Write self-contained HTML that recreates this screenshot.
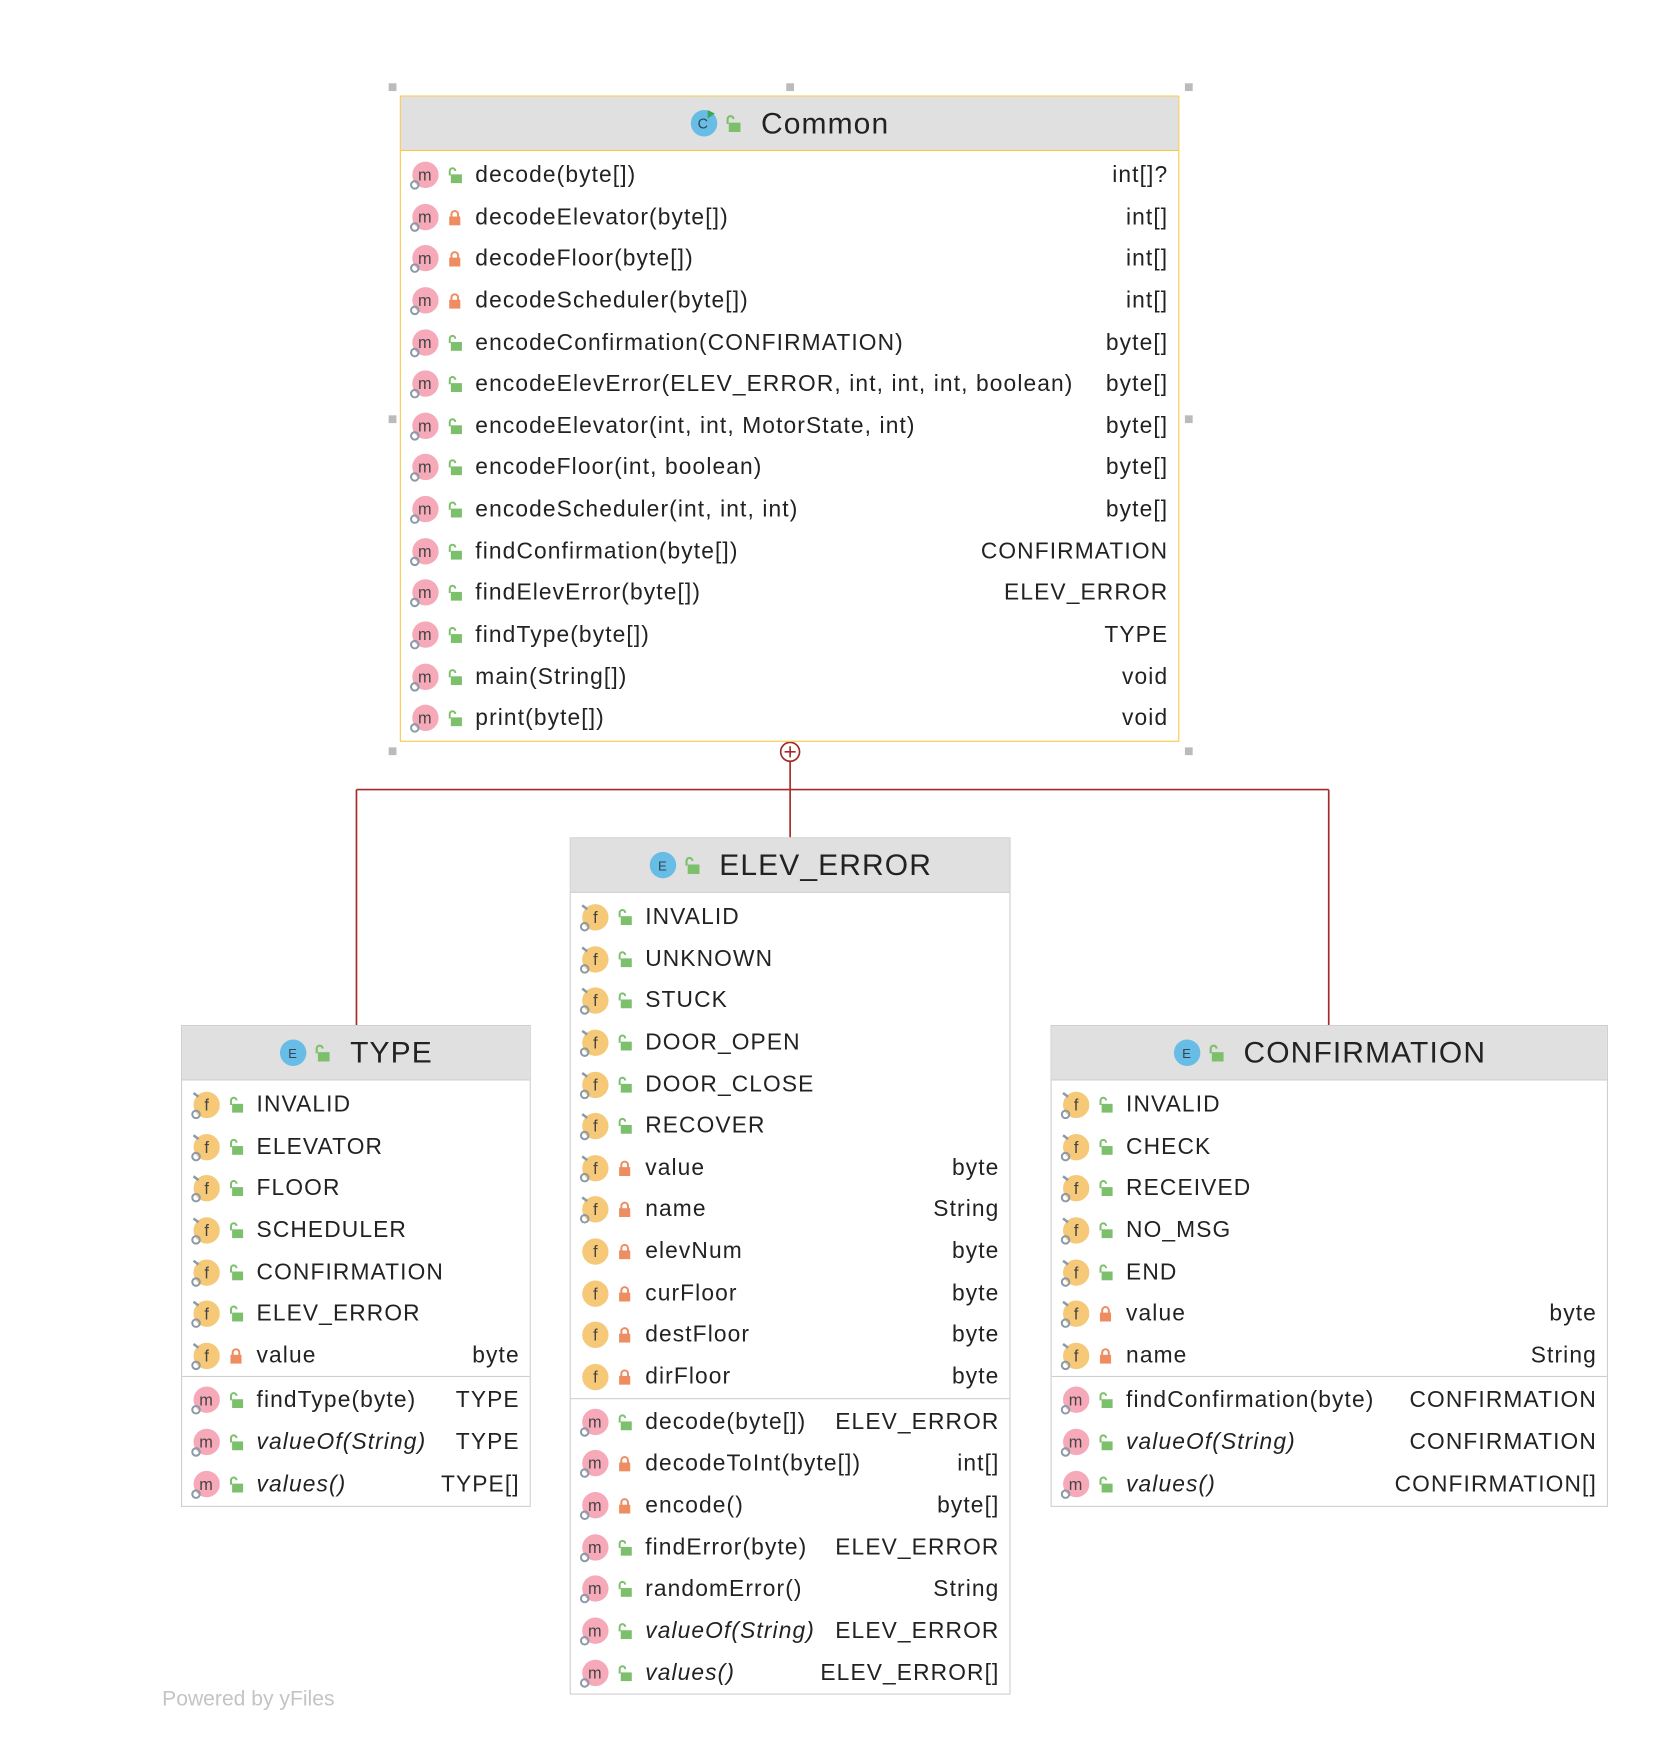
<!DOCTYPE html>
<html><head><meta charset="utf-8">
<style>
html,body{margin:0;padding:0;background:#fff;width:1678px;height:1740px;overflow:hidden}
#s{position:absolute;left:0;top:0;width:1515px;height:1570px;transform:scale(1.1105);transform-origin:0 0;font-family:"Liberation Sans",sans-serif;color:#222}
.box{position:absolute;background:#fff;border:1.5px solid #cfcfcf;box-sizing:border-box}
.box.sel{border-color:#f7c948}
.hd{height:49px;background:#e0e0e0;border-bottom:1.5px solid #cfcfcf;display:flex;align-items:center;justify-content:center;font-size:27px;letter-spacing:1px;color:#222;box-sizing:border-box}
.sel .hd{border-bottom-color:#f7c948}
.rows{padding-top:3px}
.r{height:37.65px;position:relative;font-size:20.5px;letter-spacing:1px;line-height:37.65px;white-space:nowrap}
.r .ic{position:absolute;left:8px;top:6px;width:26px;height:26px}
.r .lk{position:absolute;left:42px;top:11px;width:13px;height:15px}
.r .t{position:absolute;left:67px}
.r .v{position:absolute;right:9px}
.r i{font-style:italic}
.sep{border-top:1.5px solid #cfcfcf;margin-top:0;padding-top:2px}
.h{position:absolute;width:7px;height:7px;background:#bbb}
.hi{width:26px;height:26px;margin-right:6px}
.hl{width:14px;height:16px;margin-right:18px}
</style></head><body>
<svg width="0" height="0" style="position:absolute">
<defs>
<symbol id="m" viewBox="0 0 23 23"><circle cx="12.5" cy="11" r="10.5" fill="#f6a9b8"/><text x="12.5" y="15.5" font-size="13" text-anchor="middle" font-family="Liberation Sans" fill="#444">m</text><circle cx="4" cy="19" r="3" fill="none" stroke="#8a9aa8" stroke-width="1.6"/></symbol>
<symbol id="f" viewBox="0 0 23 23"><circle cx="12.5" cy="11.5" r="10.5" fill="#f6c979"/><text x="13" y="16" font-size="13" text-anchor="middle" font-family="Liberation Sans" fill="#444">f</text><circle cx="4" cy="19" r="3" fill="none" stroke="#8a9aa8" stroke-width="1.6"/><path d="M2 2l4 3" stroke="#8a9aa8" stroke-width="2"/></symbol>
<symbol id="fp" viewBox="0 0 23 23"><circle cx="12.5" cy="11.5" r="10.5" fill="#f6c979"/><text x="13" y="16" font-size="13" text-anchor="middle" font-family="Liberation Sans" fill="#444">f</text></symbol>
<symbol id="g" viewBox="0 0 13 15"><path d="M2 8V4a2.5 2.5 0 0 1 5 0" fill="none" stroke="#7cc06c" stroke-width="1.8"/><rect x="3" y="7" width="10" height="8" fill="#7cc06c"/></symbol>
<symbol id="o" viewBox="0 0 13 15"><path d="M3.5 8V5a3 3 0 0 1 6 0v3" fill="none" stroke="#ee8c62" stroke-width="1.8"/><rect x="1.5" y="7" width="10" height="8" fill="#ee8c62"/></symbol>
<symbol id="e" viewBox="0 0 24 24"><circle cx="12" cy="12" r="11" fill="#67bde6"/><text x="12" y="16.5" font-size="11" text-anchor="middle" font-family="Liberation Sans" fill="#345">E</text></symbol>
<symbol id="c" viewBox="0 0 24 24"><circle cx="12" cy="12" r="11" fill="#67bde6"/><text x="11.5" y="16.5" font-size="12" text-anchor="middle" font-family="Liberation Sans" fill="#345">C</text><path d="M15 1l6 3-6 4z" fill="#3aa850"/></symbol>
</defs></svg>
<div id="s">
<svg style="position:absolute;left:0;top:0" width="1515" height="1570">
<g stroke="#a52a2a" stroke-width="1.5" fill="none">
<circle cx="711.5" cy="677" r="8.5"/>
<path d="M711.5 672v10M706.5 677h10"/>
<path d="M711.5 685.5V754M321 711H1196.5M321 711V923M1196.5 711V923"/>
</g></svg>
<div class="h" style="left:350px;top:75px"></div><div class="h" style="left:708px;top:75px"></div><div class="h" style="left:1067px;top:75px"></div>
<div class="h" style="left:350px;top:374px"></div><div class="h" style="left:1067px;top:374px"></div>
<div class="h" style="left:350px;top:673px"></div><div class="h" style="left:1067px;top:673px"></div>

<div class="box sel" style="left:360px;top:86px;width:702px;height:582px">
<div class="hd"><svg class="hi"><use href="#c"/></svg><svg class="hl"><use href="#g"/></svg>Common</div>
<div class="rows">
<div class="r"><svg class="ic"><use href="#m"/></svg><svg class="lk"><use href="#g"/></svg><span class="t">decode(byte[])</span><span class="v">int[]?</span></div>
<div class="r"><svg class="ic"><use href="#m"/></svg><svg class="lk"><use href="#o"/></svg><span class="t">decodeElevator(byte[])</span><span class="v">int[]</span></div>
<div class="r"><svg class="ic"><use href="#m"/></svg><svg class="lk"><use href="#o"/></svg><span class="t">decodeFloor(byte[])</span><span class="v">int[]</span></div>
<div class="r"><svg class="ic"><use href="#m"/></svg><svg class="lk"><use href="#o"/></svg><span class="t">decodeScheduler(byte[])</span><span class="v">int[]</span></div>
<div class="r"><svg class="ic"><use href="#m"/></svg><svg class="lk"><use href="#g"/></svg><span class="t">encodeConfirmation(CONFIRMATION)</span><span class="v">byte[]</span></div>
<div class="r"><svg class="ic"><use href="#m"/></svg><svg class="lk"><use href="#g"/></svg><span class="t">encodeElevError(ELEV_ERROR, int, int, int, boolean)</span><span class="v">byte[]</span></div>
<div class="r"><svg class="ic"><use href="#m"/></svg><svg class="lk"><use href="#g"/></svg><span class="t">encodeElevator(int, int, MotorState, int)</span><span class="v">byte[]</span></div>
<div class="r"><svg class="ic"><use href="#m"/></svg><svg class="lk"><use href="#g"/></svg><span class="t">encodeFloor(int, boolean)</span><span class="v">byte[]</span></div>
<div class="r"><svg class="ic"><use href="#m"/></svg><svg class="lk"><use href="#g"/></svg><span class="t">encodeScheduler(int, int, int)</span><span class="v">byte[]</span></div>
<div class="r"><svg class="ic"><use href="#m"/></svg><svg class="lk"><use href="#g"/></svg><span class="t">findConfirmation(byte[])</span><span class="v">CONFIRMATION</span></div>
<div class="r"><svg class="ic"><use href="#m"/></svg><svg class="lk"><use href="#g"/></svg><span class="t">findElevError(byte[])</span><span class="v">ELEV_ERROR</span></div>
<div class="r"><svg class="ic"><use href="#m"/></svg><svg class="lk"><use href="#g"/></svg><span class="t">findType(byte[])</span><span class="v">TYPE</span></div>
<div class="r"><svg class="ic"><use href="#m"/></svg><svg class="lk"><use href="#g"/></svg><span class="t">main(String[])</span><span class="v">void</span></div>
<div class="r"><svg class="ic"><use href="#m"/></svg><svg class="lk"><use href="#g"/></svg><span class="t">print(byte[])</span><span class="v">void</span></div>
</div></div>

<div class="box" style="left:513px;top:754px;width:397px;height:772px">
<div class="hd"><svg class="hi"><use href="#e"/></svg><svg class="hl"><use href="#g"/></svg>ELEV_ERROR</div>
<div class="rows">
<div class="r"><svg class="ic"><use href="#f"/></svg><svg class="lk"><use href="#g"/></svg><span class="t">INVALID</span></div>
<div class="r"><svg class="ic"><use href="#f"/></svg><svg class="lk"><use href="#g"/></svg><span class="t">UNKNOWN</span></div>
<div class="r"><svg class="ic"><use href="#f"/></svg><svg class="lk"><use href="#g"/></svg><span class="t">STUCK</span></div>
<div class="r"><svg class="ic"><use href="#f"/></svg><svg class="lk"><use href="#g"/></svg><span class="t">DOOR_OPEN</span></div>
<div class="r"><svg class="ic"><use href="#f"/></svg><svg class="lk"><use href="#g"/></svg><span class="t">DOOR_CLOSE</span></div>
<div class="r"><svg class="ic"><use href="#f"/></svg><svg class="lk"><use href="#g"/></svg><span class="t">RECOVER</span></div>
<div class="r"><svg class="ic"><use href="#f"/></svg><svg class="lk"><use href="#o"/></svg><span class="t">value</span><span class="v">byte</span></div>
<div class="r"><svg class="ic"><use href="#f"/></svg><svg class="lk"><use href="#o"/></svg><span class="t">name</span><span class="v">String</span></div>
<div class="r"><svg class="ic"><use href="#fp"/></svg><svg class="lk"><use href="#o"/></svg><span class="t">elevNum</span><span class="v">byte</span></div>
<div class="r"><svg class="ic"><use href="#fp"/></svg><svg class="lk"><use href="#o"/></svg><span class="t">curFloor</span><span class="v">byte</span></div>
<div class="r"><svg class="ic"><use href="#fp"/></svg><svg class="lk"><use href="#o"/></svg><span class="t">destFloor</span><span class="v">byte</span></div>
<div class="r"><svg class="ic"><use href="#fp"/></svg><svg class="lk"><use href="#o"/></svg><span class="t">dirFloor</span><span class="v">byte</span></div>
</div>
<div class="rows sep">
<div class="r"><svg class="ic"><use href="#m"/></svg><svg class="lk"><use href="#g"/></svg><span class="t">decode(byte[])</span><span class="v">ELEV_ERROR</span></div>
<div class="r"><svg class="ic"><use href="#m"/></svg><svg class="lk"><use href="#o"/></svg><span class="t">decodeToInt(byte[])</span><span class="v">int[]</span></div>
<div class="r"><svg class="ic"><use href="#m"/></svg><svg class="lk"><use href="#o"/></svg><span class="t">encode()</span><span class="v">byte[]</span></div>
<div class="r"><svg class="ic"><use href="#m"/></svg><svg class="lk"><use href="#g"/></svg><span class="t">findError(byte)</span><span class="v">ELEV_ERROR</span></div>
<div class="r"><svg class="ic"><use href="#m"/></svg><svg class="lk"><use href="#g"/></svg><span class="t">randomError()</span><span class="v">String</span></div>
<div class="r"><svg class="ic"><use href="#m"/></svg><svg class="lk"><use href="#g"/></svg><span class="t"><i>valueOf(String)</i></span><span class="v">ELEV_ERROR</span></div>
<div class="r"><svg class="ic"><use href="#m"/></svg><svg class="lk"><use href="#g"/></svg><span class="t"><i>values()</i></span><span class="v">ELEV_ERROR[]</span></div>
</div></div>

<div class="box" style="left:163px;top:923px;width:315px;height:434px">
<div class="hd"><svg class="hi"><use href="#e"/></svg><svg class="hl"><use href="#g"/></svg>TYPE</div>
<div class="rows">
<div class="r"><svg class="ic"><use href="#f"/></svg><svg class="lk"><use href="#g"/></svg><span class="t">INVALID</span></div>
<div class="r"><svg class="ic"><use href="#f"/></svg><svg class="lk"><use href="#g"/></svg><span class="t">ELEVATOR</span></div>
<div class="r"><svg class="ic"><use href="#f"/></svg><svg class="lk"><use href="#g"/></svg><span class="t">FLOOR</span></div>
<div class="r"><svg class="ic"><use href="#f"/></svg><svg class="lk"><use href="#g"/></svg><span class="t">SCHEDULER</span></div>
<div class="r"><svg class="ic"><use href="#f"/></svg><svg class="lk"><use href="#g"/></svg><span class="t">CONFIRMATION</span></div>
<div class="r"><svg class="ic"><use href="#f"/></svg><svg class="lk"><use href="#g"/></svg><span class="t">ELEV_ERROR</span></div>
<div class="r"><svg class="ic"><use href="#f"/></svg><svg class="lk"><use href="#o"/></svg><span class="t">value</span><span class="v">byte</span></div>
</div>
<div class="rows sep">
<div class="r"><svg class="ic"><use href="#m"/></svg><svg class="lk"><use href="#g"/></svg><span class="t">findType(byte)</span><span class="v">TYPE</span></div>
<div class="r"><svg class="ic"><use href="#m"/></svg><svg class="lk"><use href="#g"/></svg><span class="t"><i>valueOf(String)</i></span><span class="v">TYPE</span></div>
<div class="r"><svg class="ic"><use href="#m"/></svg><svg class="lk"><use href="#g"/></svg><span class="t"><i>values()</i></span><span class="v">TYPE[]</span></div>
</div></div>

<div class="box" style="left:946px;top:923px;width:502px;height:434px">
<div class="hd"><svg class="hi"><use href="#e"/></svg><svg class="hl"><use href="#g"/></svg>CONFIRMATION</div>
<div class="rows">
<div class="r"><svg class="ic"><use href="#f"/></svg><svg class="lk"><use href="#g"/></svg><span class="t">INVALID</span></div>
<div class="r"><svg class="ic"><use href="#f"/></svg><svg class="lk"><use href="#g"/></svg><span class="t">CHECK</span></div>
<div class="r"><svg class="ic"><use href="#f"/></svg><svg class="lk"><use href="#g"/></svg><span class="t">RECEIVED</span></div>
<div class="r"><svg class="ic"><use href="#f"/></svg><svg class="lk"><use href="#g"/></svg><span class="t">NO_MSG</span></div>
<div class="r"><svg class="ic"><use href="#f"/></svg><svg class="lk"><use href="#g"/></svg><span class="t">END</span></div>
<div class="r"><svg class="ic"><use href="#f"/></svg><svg class="lk"><use href="#o"/></svg><span class="t">value</span><span class="v">byte</span></div>
<div class="r"><svg class="ic"><use href="#f"/></svg><svg class="lk"><use href="#o"/></svg><span class="t">name</span><span class="v">String</span></div>
</div>
<div class="rows sep">
<div class="r"><svg class="ic"><use href="#m"/></svg><svg class="lk"><use href="#g"/></svg><span class="t">findConfirmation(byte)</span><span class="v">CONFIRMATION</span></div>
<div class="r"><svg class="ic"><use href="#m"/></svg><svg class="lk"><use href="#g"/></svg><span class="t"><i>valueOf(String)</i></span><span class="v">CONFIRMATION</span></div>
<div class="r"><svg class="ic"><use href="#m"/></svg><svg class="lk"><use href="#g"/></svg><span class="t"><i>values()</i></span><span class="v">CONFIRMATION[]</span></div>
</div></div>

<div style="position:absolute;left:146px;top:1520px;font-size:19px;color:#c4c4c4">Powered by yFiles</div>
</div>
</body></html>
